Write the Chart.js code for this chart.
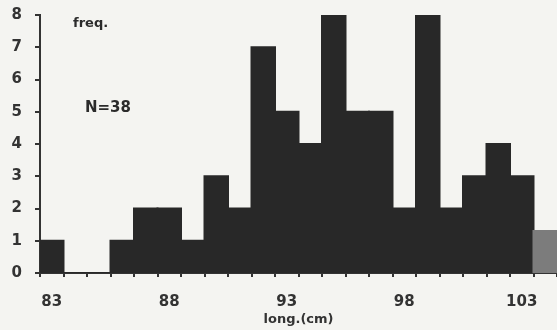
<!DOCTYPE html>
<html>
<head>
<meta charset="utf-8">
<script src="https://cdn.jsdelivr.net/npm/chart.js@4/dist/chart.umd.min.js"></script>
<style>
    html, body { margin: 0; padding: 0; background: #f4f4f1; }
    #wrap { width: 557px; height: 330px; position: relative; }
</style>
</head>
<body>
<div id="wrap"><canvas id="histChart"></canvas></div>
<script>
// 长度分组 (cm) 与频数
const lengths = [83, 84, 85, 86, 87, 88, 89, 90, 91, 92, 93, 94, 95, 96, 97, 98, 99, 100, 101, 102, 103, 104];
const freq = [1, 0, 0, 1, 2, 2, 1, 3, 2, 7, 5, 4, 8, 5, 5, 2, 8, 2, 3, 4, 3, 1.3];
const shownTicks = [83, 88, 93, 98, 103];
const yTicks = [0, 1, 2, 3, 4, 5, 6, 7, 8];

const $ = id => document.getElementById(id);

// 图内的文字 freq. 和 N=38
const notes = {
    id: 'notes',
    afterDraw(chart) {
        const c = chart.ctx;
        const {left, top} = chart.chartArea;
        c.save();
        c.fillStyle = '#2b2b2b';
        c.textBaseline = 'middle';
        c.font = 'bold 13px "DejaVu Sans"';
        c.fillText('freq.', left + 33, top + 9);
        c.font = 'bold 15px "DejaVu Sans"';
        c.fillText('N=38', left + 45, top + 93);
        c.restore();
    }
};

const barColor = i => i === lengths.length - 1 ? '#7c7c7c' : '#282828';

window.onload = () => {
    const ctx = $('histChart').getContext('2d');
    new Chart(ctx, {
        type: 'bar',
        data: {
            labels: lengths,
            datasets: [{
                data: freq,
                backgroundColor: c => barColor(c.dataIndex),
                borderWidth: 0,
                inflateAmount: 1,
                barPercentage: 1,
                categoryPercentage: 1
            }]
        },
        options: {
            responsive: true,
            maintainAspectRatio: false,
            animation: false,
            layout: {padding: {top: 15, right: 0, left: 0, bottom: 0}},
            plugins: {legend: {display: false}, tooltip: {enabled: false}},
            scales: {
                x: {
                    type: 'category',
                    offset: true,
                    afterFit: s => { s.height = 57; s.paddingLeft = 0; s.paddingRight = 0; },
                    border: {color: '#333', width: 2},
                    grid: {offset: true, drawOnChartArea: false, tickLength: 4, color: '#333', lineWidth: 2},
                    ticks: {
                        autoSkip: false,
                        maxRotation: 0,
                        padding: 16,
                        color: '#333',
                        font: {family: 'DejaVu Sans', size: 15, weight: 'bold'},
                        callback: (v, i) => shownTicks.includes(lengths[i]) ? String(lengths[i]) : ''
                    },
                    title: {
                        display: true,
                        text: 'long.(cm)',
                        color: '#333',
                        padding: {top: 0, bottom: 3},
                        font: {family: 'DejaVu Sans', size: 13, weight: 'bold'}
                    }
                },
                y: {
                    min: 0,
                    max: 8,
                    afterBuildTicks: s => { s.ticks = yTicks.map(v => ({value: v})); },
                    afterFit: s => { s.width = 40; s.paddingTop = 0; s.paddingBottom = 0; },
                    border: {color: '#333', width: 2},
                    grid: {drawOnChartArea: false, tickLength: 5, color: '#333', lineWidth: 2},
                    ticks: {
                        padding: 13,
                        color: '#333',
                        font: {family: 'DejaVu Sans', size: 15, weight: 'bold'}
                    }
                }
            }
        },
        plugins: [notes]
    });
};
</script>
</body>
</html>
